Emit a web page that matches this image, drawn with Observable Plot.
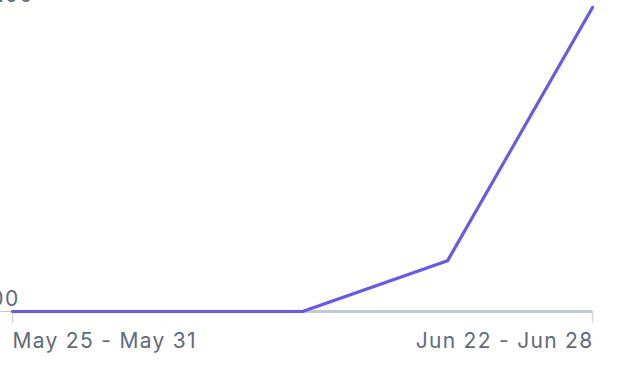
<!DOCTYPE html>
<html>
<head>
<meta charset="utf-8">
<script src="https://cdn.jsdelivr.net/npm/d3@7"></script>
<script src="https://cdn.jsdelivr.net/npm/@observablehq/plot@0.6"></script>
<style>
  html, body { margin: 0; padding: 0; background: #fff; }
  #chart { width: 626px; height: 370px; overflow: hidden; }
  #chart svg text { letter-spacing: 1.3px; }
</style>
</head>
<body>
<div id="chart"></div>
<script>
const weeks = ["May 25 - May 31", "Jun 1 - Jun 7", "Jun 8 - Jun 14", "Jun 15 - Jun 21", "Jun 22 - Jun 28"];
const values = [0, 0, 0, 10, 60];
const yTicks = [0, 60];
const yTickLabels = ["0.00", "60.00"];

const data = weeks.map((w, i) => ({week: w, value: values[i]}));
const yLabelData = yTicks.map((v, i) => ({v, label: yTickLabels[i]}));

const textColor = "#5f6b7c";
const baseColor = "#c3c9d1";
const tickColor = "#d3d8de";
const fs = 21;

const chart = Plot.plot({
  width: 626,
  height: 370,
  marginLeft: 12,
  marginRight: 34,
  marginTop: 7,
  marginBottom: 59,
  style: {fontFamily: "Inter, 'Open Sans', sans-serif", fontSize: fs + "px", background: "#fff"},
  x: {type: "point", domain: weeks, axis: null, padding: 0},
  y: {domain: [0, 60], axis: null},
  marks: [
    Plot.ruleY([0], {stroke: baseColor, strokeWidth: 3}),
    Plot.axisY({ticks: [0], tickSize: 12, tickFormat: () => "", stroke: baseColor, label: null}),
    Plot.axisX({ticks: [weeks[0], weeks[weeks.length - 1]], tickSize: 12, tickFormat: () => "", stroke: tickColor, strokeWidth: 1.5, label: null}),
    Plot.text(yLabelData, {y: "v", text: "label", frameAnchor: "left", textAnchor: "start", lineAnchor: "bottom", dx: -43, dy: -6, fill: textColor, fontSize: fs}),
    Plot.text([weeks[0]], {x: d => d, text: d => d, frameAnchor: "bottom", textAnchor: "start", lineAnchor: "bottom", dy: 36, fill: textColor, fontSize: fs}),
    Plot.text([weeks[weeks.length - 1]], {x: d => d, text: d => d, frameAnchor: "bottom", textAnchor: "end", lineAnchor: "bottom", dy: 36, dx: 1, fill: textColor, fontSize: fs}),
    Plot.line(data, {x: "week", y: "value", stroke: "#6457f5", strokeWidth: 3.2, strokeLinejoin: "round", strokeLinecap: "round"})
  ]
});
document.getElementById("chart").appendChild(chart);
</script>
</body>
</html>
